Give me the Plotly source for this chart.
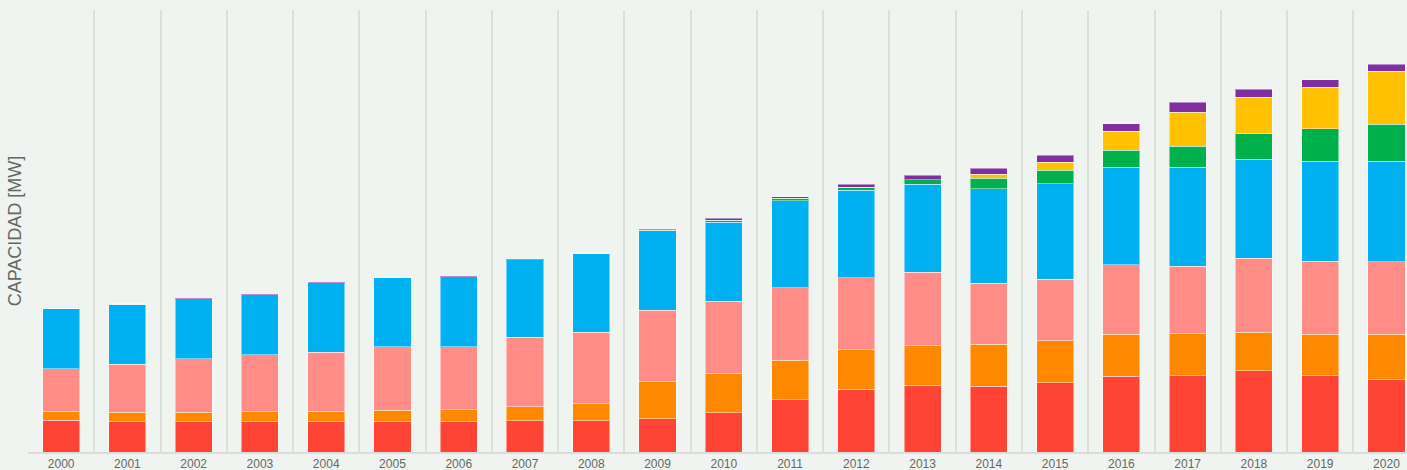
import plotly.graph_objects as go

years = [str(y) for y in range(2000, 2021)]

carbon = [2060, 1970, 1970, 1970, 1970, 1970, 1970, 2020, 2020, 2150, 2560,
          3400, 4080, 4330, 4290, 4490, 4920, 4970, 5290, 4970, 4710]
diesel = [590, 610, 630, 650, 680, 740, 780, 910, 1130, 2410, 2540,
          2580, 2570, 2570, 2730, 2730, 2750, 2730, 2510, 2670, 2930]
gas = [2770, 3140, 3450, 3690, 3840, 4130, 4100, 4530, 4630, 4640, 4700,
       4700, 4680, 4790, 3950, 4010, 4490, 4370, 4790, 4750, 4720]
hidro = [3880, 3900, 3900, 3900, 4500, 4530, 4530, 5050, 5150, 5170, 5120,
         5640, 5680, 5720, 6130, 6220, 6350, 6440, 6450, 6520, 6530]
eolica = [0, 0, 0, 0, 0, 0, 0, 0, 0, 30, 150,
          180, 200, 280, 700, 850, 1110, 1350, 1650, 2100, 2420]
solar = [0, 0, 0, 0, 0, 0, 0, 0, 0, 0, 0,
         0, 0, 0, 240, 540, 1240, 2210, 2360, 2690, 3450]
otras = [0, 30, 30, 30, 30, 30, 30, 30, 30, 70, 130,
         100, 210, 290, 410, 460, 470, 670, 540, 490, 460]

series = [
    ("Carbón", carbon, "#ff4335"),
    ("Diésel", diesel, "#ff8800"),
    ("Gas natural", gas, "#ff8c87"),
    ("Hidráulica", hidro, "#00b1f2"),
    ("Eólica", eolica, "#00b04b"),
    ("Solar", solar, "#ffc100"),
    ("Otras", otras, "#822ea3"),
]

fig = go.Figure()
for name, vals, color in series:
    fig.add_trace(go.Bar(
        x=years, y=vals, name=name,
        marker=dict(color=color, line=dict(color="rgba(255,255,255,0.45)", width=1)),
    ))

bg = "#f0f4f0"
fig.update_layout(
    barmode="stack",
    bargap=0.44,
    width=1407, height=470,
    paper_bgcolor=bg, plot_bgcolor=bg,
    showlegend=False,
    margin=dict(l=28, r=0, t=10, b=18, autoexpand=False),
    font=dict(family="Liberation Sans, Arial, sans-serif", color="#666666"),
    xaxis=dict(
        type="category",
        range=[-0.5, 20.31],
        tickson="boundaries",
        automargin=False,
        showgrid=True, gridcolor="#dcdfdc", gridwidth=1.5,
        showline=True, linecolor="#dcdcdc", linewidth=2,
        ticks="", tickfont=dict(size=12, color="#666666"),
        fixedrange=True,
    ),
    yaxis=dict(
        range=[0, 28730],
        showgrid=False, zeroline=False, showticklabels=False, ticks="",
        title=dict(text="CAPACIDAD [MW]", font=dict(size=18, color="#666666"), standoff=0),
        automargin=False,
    ),
)

fig.write_html(
    "out.html",
    config={"displayModeBar": False},
    post_script="document.body.style.margin='0';document.body.style.overflow='hidden';document.body.style.background='" + bg + "';",
)
